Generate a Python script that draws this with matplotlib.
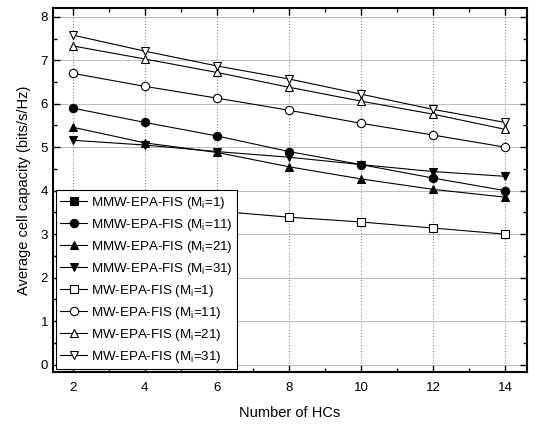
import matplotlib
matplotlib.use("Agg")
import matplotlib.pyplot as plt
from matplotlib.ticker import MultipleLocator

plt.rcParams['font.family'] = ['Liberation Sans', 'DejaVu Sans']
plt.rcParams['mathtext.fontset'] = 'custom'
plt.rcParams['mathtext.rm'] = 'Liberation Sans'
plt.rcParams['mathtext.it'] = 'Liberation Sans'

hcs = [2, 4, 6, 8, 10, 12, 14]

# MMW-EPA-FIS (no visible points for M_i=1 in the figure)
mmw_m1 = []
mmw_m11 = [5.9, 5.57, 5.26, 4.9, 4.6, 4.29, 4.0]
mmw_m21 = [5.46, 5.1, 4.88, 4.55, 4.27, 4.03, 3.85]
mmw_m31 = [5.16, 5.05, 4.9, 4.77, 4.6, 4.44, 4.33]

# MW-EPA-FIS
mw_m1 = [3.8, 3.66, 3.53, 3.39, 3.28, 3.14, 3.0]
mw_m11 = [6.7, 6.4, 6.13, 5.85, 5.55, 5.28, 5.0]
mw_m21 = [7.33, 7.03, 6.72, 6.38, 6.06, 5.76, 5.41]
mw_m31 = [7.58, 7.21, 6.87, 6.57, 6.22, 5.87, 5.57]

series = [
    (mmw_m1, 's', 'k', 'MMW-EPA-FIS (M$_i$=1)'),
    (mmw_m11, 'o', 'k', 'MMW-EPA-FIS (M$_i$=11)'),
    (mmw_m21, '^', 'k', 'MMW-EPA-FIS (M$_i$=21)'),
    (mmw_m31, 'v', 'k', 'MMW-EPA-FIS (M$_i$=31)'),
    (mw_m1, 's', 'w', 'MW-EPA-FIS (M$_i$=1)'),
    (mw_m11, 'o', 'w', 'MW-EPA-FIS (M$_i$=11)'),
    (mw_m21, '^', 'w', 'MW-EPA-FIS (M$_i$=21)'),
    (mw_m31, 'v', 'w', 'MW-EPA-FIS (M$_i$=31)'),
]

fig = plt.figure(figsize=(5.46, 4.28), dpi=100)
ax = fig.add_axes([0.097, 0.131, 0.868, 0.850])

for vals, mk, fc, lab in series:
    ax.plot(hcs[:len(vals)], vals, color='k', lw=0.8, marker=mk, ms=6,
            mfc=fc, mec='k', mew=0.8, label=lab)

ax.set_xlim(1.45, 14.6)
ax.set_ylim(-0.17, 8.2)
ax.xaxis.set_major_locator(MultipleLocator(2))
ax.xaxis.set_minor_locator(MultipleLocator(1))
ax.yaxis.set_major_locator(MultipleLocator(1))
ax.yaxis.set_minor_locator(MultipleLocator(0.5))
ax.tick_params(which='both', direction='in', top=True, right=True, labelsize=9.5, colors='k')
ax.tick_params(which='major', length=5, width=1)
ax.tick_params(which='minor', length=3, width=1)
ax.tick_params(axis='x', pad=7)
ax.grid(True, axis='x', which='major', ls=':', color='#888888', lw=0.8)
ax.grid(True, axis='y', which='major', ls='-', color='#bbbbbb', lw=0.7)
for sp in ax.spines.values():
    sp.set_linewidth(1.5)

ax.set_xlabel('Number of HCs', fontsize=10.5, labelpad=9)
ax.set_ylabel('Average cell capacity (bits/s/Hz)', fontsize=10.5, labelpad=7)

leg = ax.legend(loc='lower left', bbox_to_anchor=(0.0, 0.0), fontsize=9.6,
                frameon=True, fancybox=False, edgecolor='k', framealpha=1,
                borderaxespad=0.2, handlelength=2.0, handletextpad=0.3,
                labelspacing=0.45, borderpad=0.35)
leg.get_frame().set_linewidth(0.8)

fig.savefig('out.png', dpi=100)
